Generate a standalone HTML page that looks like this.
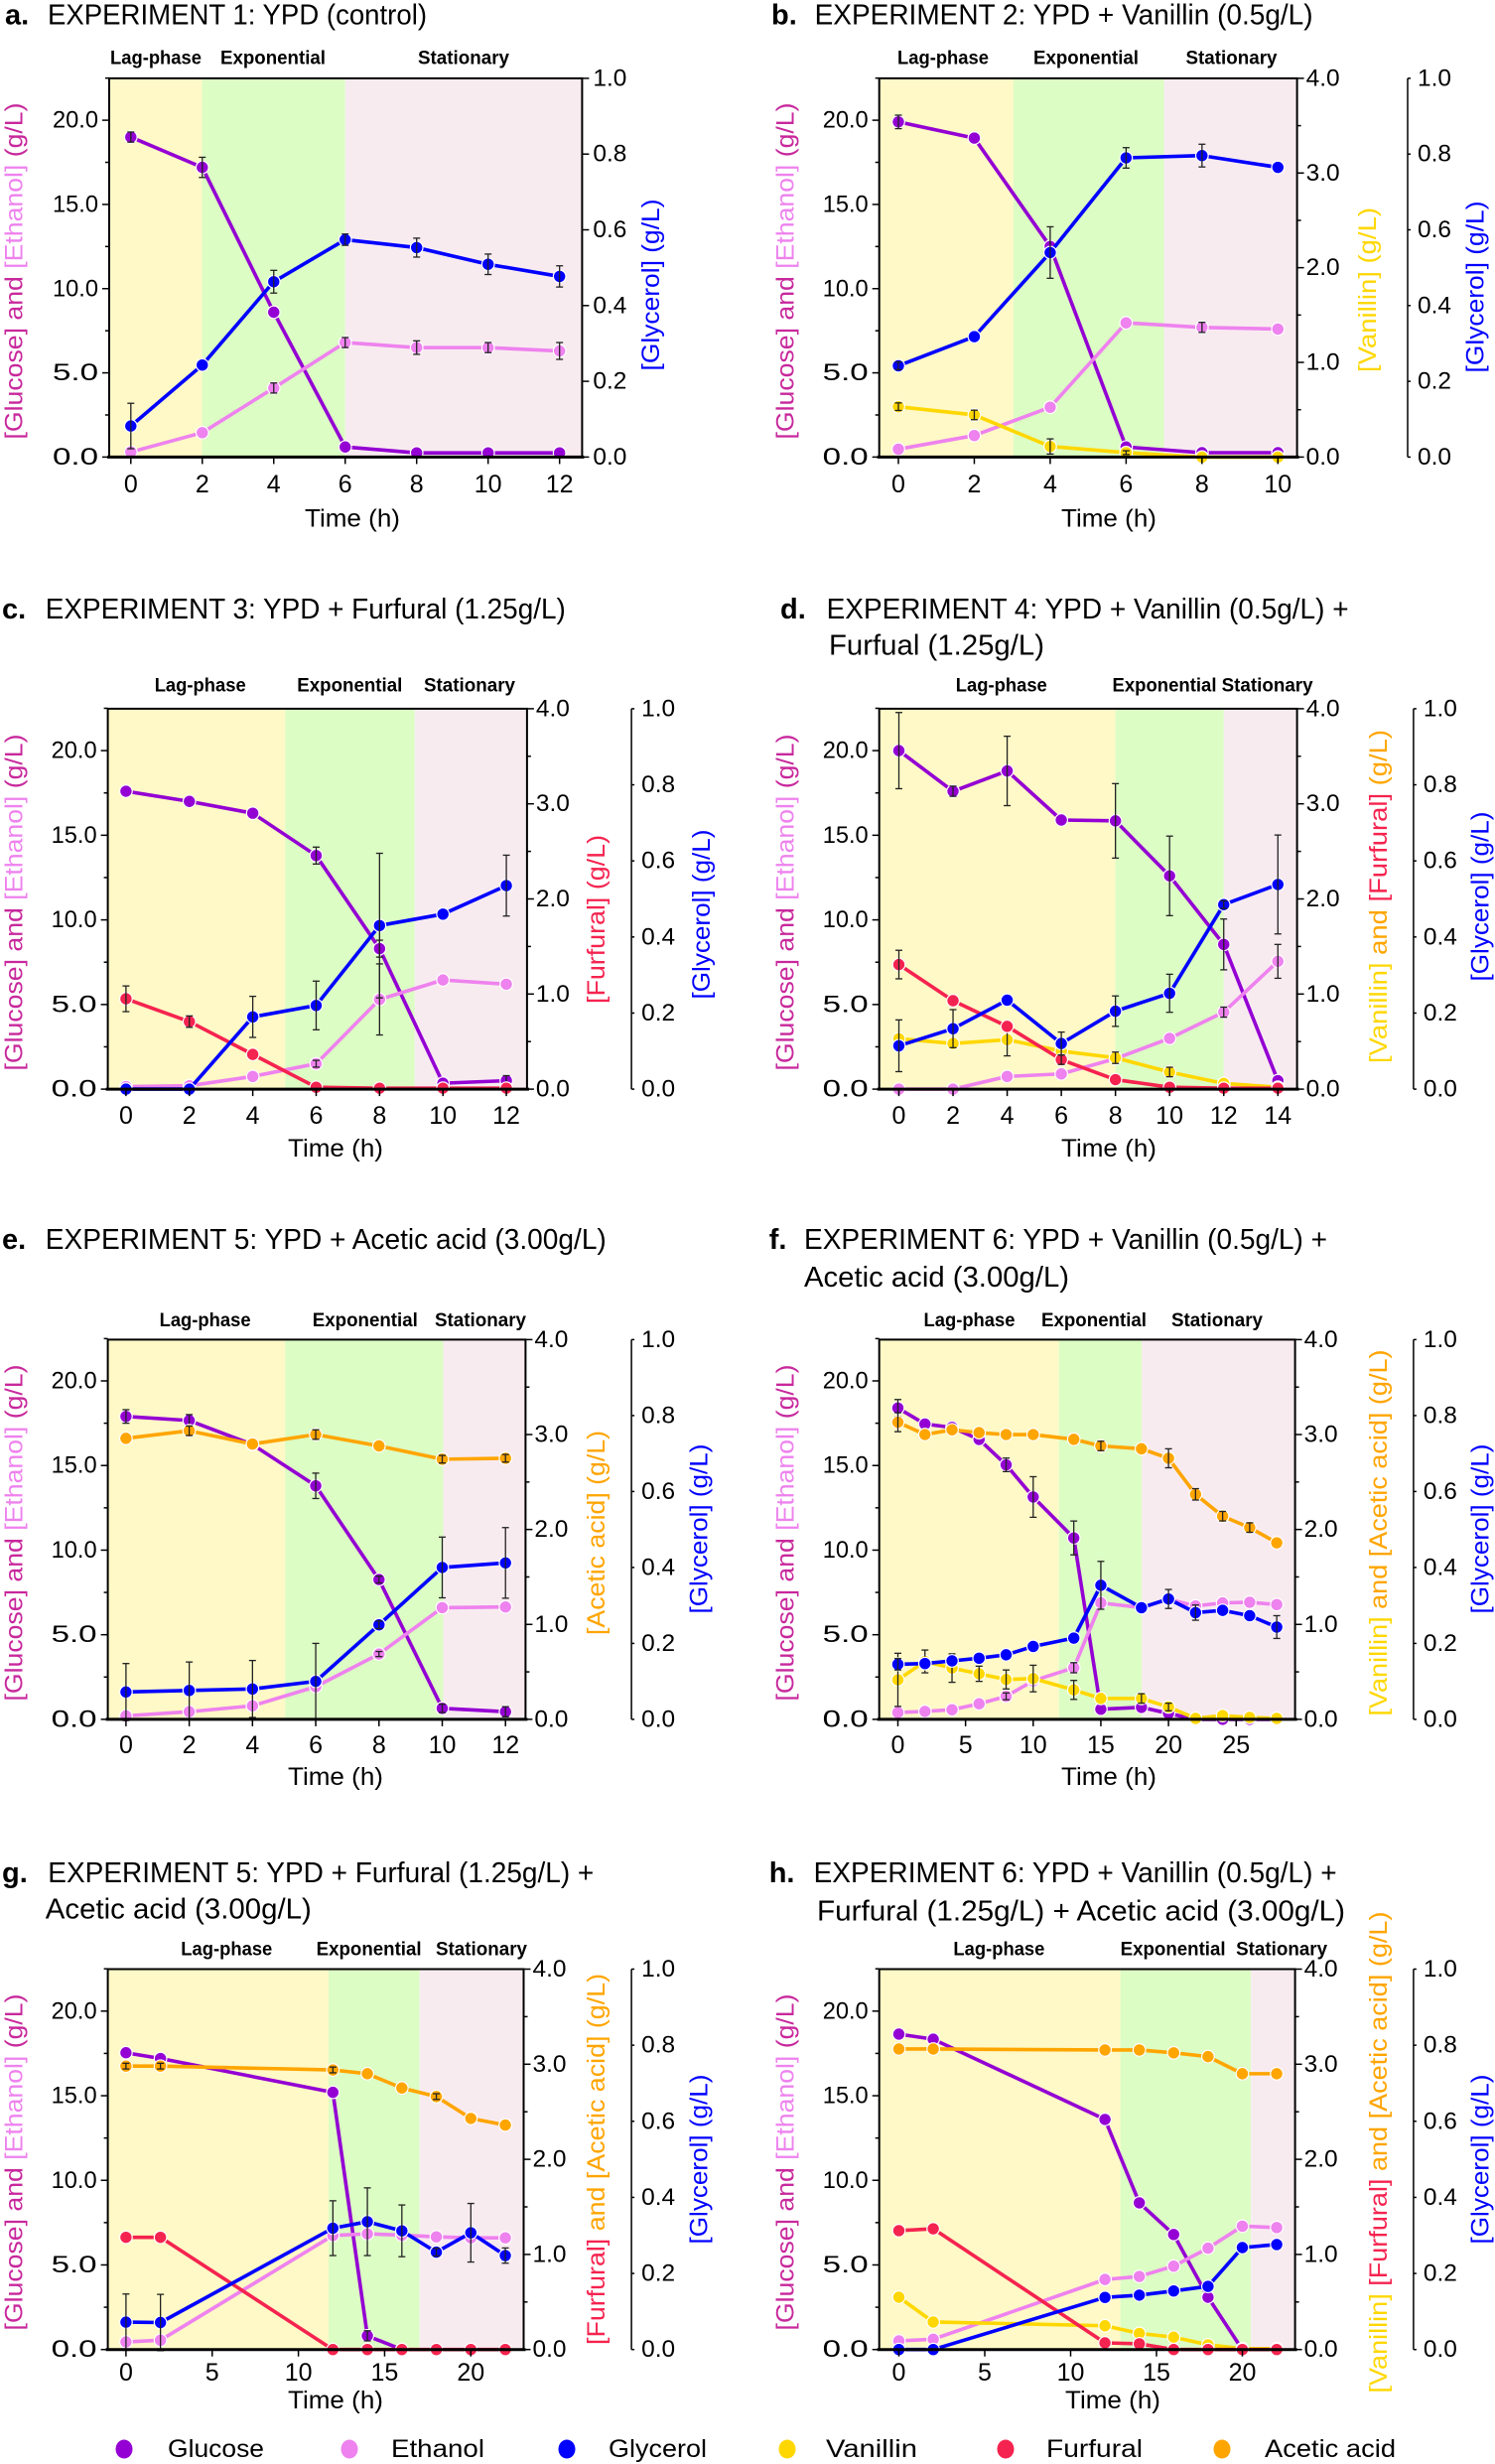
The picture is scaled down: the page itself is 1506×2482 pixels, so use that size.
<!DOCTYPE html>
<html><head><meta charset="utf-8">
<style>
html,body{margin:0;padding:0;background:#fff;}
svg{display:block;font-family:"Liberation Sans",sans-serif;}
</style></head>
<body>
<svg id="s" xmlns="http://www.w3.org/2000/svg" width="1506" height="2482" viewBox="0 0 1506 2482"></svg>
<script>
const NS='http://www.w3.org/2000/svg';
const S=document.getElementById('s');
function el(tag,a,txt,par){const e=document.createElementNS(NS,tag);for(const k in a)e.setAttribute(k,a[k]);if(txt!==undefined&&txt!==null)e.textContent=txt;(par||S).appendChild(e);return e;}
const C={glu:'#9400D3',eth:'#EE82EE',gly:'#0000FF',van:'#FFD700',fur:'#F5234F',ace:'#FFA500'};
const LC={glu:'#C8289C',eth:'#EE82EE',gly:'#0000FF',van:'#FFD700',fur:'#F5234F',ace:'#FFA500',k:'#000'};
function T(x,y,s,o){o=o||{};const a={x:x,y:y,'font-size':o.fs||24,fill:o.fill||'#000','dominant-baseline':'central'};
 if(o.anchor)a['text-anchor']=o.anchor; if(o.len){a.textLength=o.len;a.lengthAdjust='spacingAndGlyphs';} if(o.fw)a['font-weight']=o.fw;
 return el('text',a,s);}
function VT(x,y,parts,len,fs){const t=el('text',{transform:`translate(${x},${y}) rotate(-90)`,'text-anchor':'middle','dominant-baseline':'central','font-size':fs||25,textLength:len,lengthAdjust:'spacingAndGlyphs'});
 parts.forEach(p=>el('tspan',{fill:LC[p[1]]},p[0],t));}

function panel(P){
 const {L,R,T:Tp,B,x0,xs,y20}=P;
 const px=t=>x0+t*xs, ly=v=>B-v*(B-y20)/20, ry=v=>B-v*(B-Tp)/4, gy=v=>B-v*(B-Tp);
 // shades
 const s1=px(P.sh[0]),s2=px(P.sh[1]);
 el('rect',{x:L,y:Tp,width:s1-L,height:B-Tp,fill:'#FEF9C6'});
 el('rect',{x:s1,y:Tp,width:s2-s1,height:B-Tp,fill:'#DCFDC4'});
 el('rect',{x:s2,y:Tp,width:R-s2,height:B-Tp,fill:'#F8EBF0'});
 // series
 const yf={L:ly,R:ry,G:gy};
 P.series.forEach(sr=>{
  const [key,ax,ts,vs,errs]=sr; const f=yf[ax];
  const pts=ts.map((t,i)=>[px(t),f(vs[i])]);
  el('polyline',{points:pts.map(p=>p.join(',')).join(' '),fill:'none',stroke:C[key],'stroke-width':3.6,'stroke-linejoin':'round'});
  pts.forEach((p,i)=>{el('circle',{cx:p[0],cy:p[1],r:6.3,fill:C[key],stroke:'#fff','stroke-width':1.2});});
  if(errs){errs.forEach(e=>{const i=e[0],d=e[1];const x=pts[i][0];const y1=f(vs[i]-d),y2=f(vs[i]+d);
   el('line',{x1:x,y1:y1,x2:x,y2:y2,stroke:'#222','stroke-width':1.3});
   el('line',{x1:x-3.5,y1:y1,x2:x+3.5,y2:y1,stroke:'#222','stroke-width':1.3});
   el('line',{x1:x-3.5,y1:y2,x2:x+3.5,y2:y2,stroke:'#222','stroke-width':1.3});});}
 });
 // frame
 el('rect',{x:L,y:Tp,width:R-L,height:B-Tp,fill:'none',stroke:'#000','stroke-width':2});
 el('line',{x1:L-2,y1:B,x2:R+2,y2:B,stroke:'#000','stroke-width':3});
 // left ticks
 for(let v=0;v<=22.5;v+=2.5){const y=ly(v);const maj=(v%5===0);el('line',{x1:L-(maj?7:4),y1:y,x2:L,y2:y,stroke:'#000','stroke-width':1.5});
  if(maj)T(L-11,y,v.toFixed(1),{anchor:'end',fs:24,len:46});}
 // x ticks
 P.xt.forEach(t=>{const x=px(t);el('line',{x1:x,y1:B,x2:x,y2:B+7,stroke:'#000','stroke-width':1.5});T(x,P.xty,String(t),{anchor:'middle',fs:25});});
 T(P.timeX,P.timeY,'Time (h)',{anchor:'middle',fs:25,len:96});
 // right axis
 if(P.r4){for(let v=0;v<=4;v+=0.5){const y=ry(v);const maj=(v%1===0);el('line',{x1:R,y1:y,x2:R+(maj?7:4),y2:y,stroke:'#000','stroke-width':1.5});
   if(maj)T(R+9,y,v.toFixed(1),{fs:24,len:34});}
  const G=P.G; el('line',{x1:G,y1:Tp,x2:G,y2:B,stroke:'#000','stroke-width':1.5});
  for(let v=0;v<=1.0001;v+=0.2){const y=gy(v);el('line',{x1:G,y1:y,x2:G+3,y2:y,stroke:'#000','stroke-width':1.5});T(G+10,y,v.toFixed(1),{fs:24,len:34});}
 } else {
  for(let v=0;v<=1.0001;v+=0.2){const y=gy(v);el('line',{x1:R,y1:y,x2:R+7,y2:y,stroke:'#000','stroke-width':1.5});T(R+11,y,v.toFixed(1),{fs:24,len:34});}
 }
 // phase labels
 P.ph.forEach(p=>T(p[0],P.phy,p[1],{anchor:'middle',fs:19,fw:'bold',len:p[2]}));
}
</script>
<script>
// legends / titles / labels as literal text
function titles(){
 const B={fs:29,fw:'bold'};
 T(5,15.6,'a.',B); T(48,15.6,'EXPERIMENT 1: YPD (control)',{fs:29,len:382});
 T(777,15.6,'b.',B); T(820.6,15.6,'EXPERIMENT 2: YPD + Vanillin (0.5g/L)',{fs:29,len:502});
 T(2,614,'c.',B); T(45.8,614,'EXPERIMENT 3: YPD + Furfural (1.25g/L)',{fs:29,len:524});
 T(786,614,'d.',B); T(832.6,614,'EXPERIMENT 4: YPD + Vanillin (0.5g/L) +',{fs:29,len:526}); T(835,650.6,'Furfual (1.25g/L)',{fs:29,len:217});
 T(2,1249,'e.',B); T(45.8,1249,'EXPERIMENT 5: YPD + Acetic acid (3.00g/L)',{fs:29,len:565});
 T(774.7,1249,'f.',B); T(810,1249,'EXPERIMENT 6: YPD + Vanillin (0.5g/L) +',{fs:29,len:527}); T(810,1287,'Acetic acid (3.00g/L)',{fs:29,len:267});
 T(2,1887,'g.',B); T(48.3,1887,'EXPERIMENT 5: YPD + Furfural (1.25g/L) +',{fs:29,len:550}); T(45.8,1923.6,'Acetic acid (3.00g/L)',{fs:29,len:268});
 T(774.7,1887,'h.',B); T(819.6,1887,'EXPERIMENT 6: YPD + Vanillin (0.5g/L) +',{fs:29,len:527}); T(823,1925.4,'Furfural (1.25g/L) + Acetic acid (3.00g/L)',{fs:29,len:532});
 // left y labels
 const lp=[['[Glucose] and ','glu'],['[Ethanol]','eth'],[' (g/L)','glu']];
 VT(14.5,273,lp,339); VT(791.6,273,lp,339);
 VT(14.5,909,lp,339); VT(791.6,909,lp,339);
 VT(14.5,1544,lp,339); VT(791.6,1544,lp,339);
 VT(14.5,2178,lp,339); VT(791.6,2178,lp,339);
 // right labels
 const gl=[['[Glycerol] (g/L)','gly']];
 VT(656,287,gl,173);
 VT(1378,292,[['[Vanillin] (g/L)','van']],166); VT(1486.6,289,gl,173);
 VT(601,926,[['[Furfural] (g/L)','fur']],170); VT(707,921,gl,171);
 VT(1389,903,[['[Vanillin]','van'],[' and ','ace'],['[Furfural]','fur'],[' (g/L)','ace']],336); VT(1491.4,903,gl,171);
 VT(601,1544,[['[Acetic acid] (g/L)','ace']],206); VT(704.6,1540,gl,171);
 VT(1389,1544,[['[Vanillin]','van'],[' and ','ace'],['[Acetic acid] (g/L)','ace']],369); VT(1491.4,1540,gl,171);
 VT(601,2175,[['[Furfural]','fur'],[' and ','ace'],['[Acetic acid] (g/L)','ace']],374); VT(704.6,2175,gl,171);
 VT(1389,2168,[['[Vanillin]','van'],[' ','ace'],['[Furfural]','fur'],[' and ','ace'],['[Acetic acid] (g/L)','ace']],485); VT(1491.4,2175,gl,171);
 // legend
 const lg=[[125,169,'Glucose','glu',97],[352,394,'Ethanol','eth',94],[571,613,'Glycerol','gly',99],[793,832,'Vanillin','van',92],[1013,1054,'Furfural','fur',97],[1231,1274,'Acetic acid','ace',132]];
 lg.forEach(l=>{el('ellipse',{cx:l[0],cy:2467,rx:8.5,ry:9.5,fill:C[l[3]]});T(l[1],2467,l[2],{fs:25,len:l[4]});});
}
</script>
<script>
const top1={T:78.9,B:460.4,y20:121.1,phy:58.8,xty:488,timeY:522.7};
const top2={T:713.9,B:1097.1,y20:756.1,phy:691,xty:1124,timeY:1157};
const top3={T:1349.4,B:1731.9,y20:1391,phy:1330.4,xty:1758,timeY:1790};
const top4={T:1983.5,B:2366.7,y20:2025.8,phy:1964,xty:2390,timeY:2418};
const t7=[0,2,4,6,8,10,12];
panel(Object.assign({},top1,{L:110,R:586.4,x0:131.8,xs:35.99,sh:[2,6],xt:t7,timeX:355,r4:false,
 ph:[[157,'Lag-phase',92],[275,'Exponential',106],[467,'Stationary',92]],
 series:[['glu','L',t7,[19.0,17.2,8.6,0.6,0.25,0.25,0.25],[[0,0.3],[1,0.6]]],
  ['eth','L',t7,[0.3,1.45,4.1,6.8,6.5,6.5,6.3],[[2,0.3],[3,0.3],[4,0.4],[5,0.3],[6,0.5]]],
  ['gly','G',t7,[0.082,0.243,0.463,0.574,0.553,0.509,0.477],[[0,0.06],[2,0.03],[3,0.015],[4,0.025],[5,0.027],[6,0.028]]]]}));
const t6=[0,2,4,6,8,10];
panel(Object.assign({},top1,{L:885.7,R:1306.6,G:1418,x0:905,xs:38.23,sh:[3.03,7.0],xt:t6,timeX:1117,r4:true,
 ph:[[950,'Lag-phase',92],[1094,'Exponential',106],[1240.5,'Stationary',92]],
 series:[['glu','L',t6,[19.9,18.94,12.5,0.6,0.26,0.26],[[0,0.4]]],
  ['eth','L',t6,[0.47,1.28,2.96,7.97,7.7,7.6],[[4,0.3]]],
  ['van','R',t6,[0.532,0.445,0.112,0.047,0,0],[[0,0.04],[1,0.05],[2,0.08],[3,0.02]]],
  ['gly','G',t6,[0.241,0.318,0.54,0.79,0.796,0.765],[[0,0.01],[2,0.068],[3,0.027],[4,0.03]]]]}));
panel(Object.assign({},top2,{L:108.6,R:530.9,G:636.1,x0:126.9,xs:31.93,sh:[5.02,9.11],xt:t7,timeX:338,r4:true,
 ph:[[201.7,'Lag-phase',92],[352.3,'Exponential',106],[473,'Stationary',92]],
 series:[['glu','L',t7,[17.6,17.0,16.3,13.8,8.3,0.35,0.5],[[3,0.5],[4,0.5],[6,0.3]]],
  ['eth','L',t7,[0.15,0.2,0.75,1.5,5.3,6.45,6.2],[[3,0.2],[4,2.1]]],
  ['fur','R',t7,[0.95,0.71,0.365,0.02,0.01,0.01,0.01],[[0,0.135],[1,0.06]]],
  ['gly','G',t7,[0,0,0.19,0.22,0.43,0.46,0.535],[[2,0.054],[3,0.064],[4,0.19],[6,0.08]]]]}));
const t8=[0,2,4,6,8,10,12,14];
panel(Object.assign({},top2,{L:885.7,R:1306.6,G:1423.9,x0:905.5,xs:27.27,sh:[8,12],xt:t8,timeX:1117,r4:true,
 ph:[[1008.8,'Lag-phase',92],[1173,'Exponential',105],[1276.6,'Stationary',92]],
 series:[['glu','L',t8,[20.0,17.6,18.8,15.9,15.85,12.6,8.55,0.5],[[0,2.25],[1,0.3],[2,2.05],[4,2.2],[5,2.35],[6,1.5]]],
  ['eth','L',t8,[0,0,0.75,0.9,1.8,3.0,4.55,7.55],[[6,0.3],[7,1.0]]],
  ['van','R',t8,[0.53,0.48,0.52,0.40,0.33,0.18,0.06,0.02],[[2,0.17],[4,0.06],[5,0.05]]],
  ['fur','R',t8,[1.31,0.93,0.66,0.31,0.10,0.02,0.01,0.01],[[0,0.15],[3,0.05]]],
  ['gly','G',t8,[0.114,0.159,0.234,0.12,0.205,0.252,0.485,0.538],[[0,0.068],[1,0.05],[3,0.03],[4,0.04],[5,0.05],[6,0.01],[7,0.13]]]]}));
panel(Object.assign({},top3,{L:108.6,R:529.4,G:636.1,x0:126.9,xs:31.86,sh:[5.03,10.03],xt:t7,timeX:338,r4:true,
 ph:[[206.6,'Lag-phase',92],[367.8,'Exponential',106],[484,'Stationary',92]],
 series:[['glu','L',t7,[17.9,17.66,16.24,13.8,8.26,0.65,0.45],[[0,0.4],[1,0.35],[3,0.75],[4,0.2],[5,0.25],[6,0.3]]],
  ['eth','L',t7,[0.2,0.45,0.8,1.93,3.86,6.6,6.64],[[4,0.15]]],
  ['ace','R',t7,[2.96,3.04,2.90,3.0,2.88,2.74,2.75],[[1,0.05],[3,0.05],[5,0.04],[6,0.04]]],
  ['gly','G',t7,[0.072,0.076,0.08,0.10,0.249,0.40,0.412],[[0,0.075],[1,0.075],[2,0.075],[3,0.1],[4,0.01],[5,0.08],[6,0.093]]]]}));
const tf=[0,2,4,6,8,10,13,15,18,20,22,24,26,28];
panel(Object.assign({},top3,{L:885.7,R:1304.6,G:1423.9,x0:904.5,xs:13.63,sh:[11.9,18.02],xt:[0,5,10,15,20,25],timeX:1117,r4:true,
 ph:[[976.5,'Lag-phase',92],[1102,'Exponential',106],[1226,'Stationary',92]],
 series:[['glu','L',tf,[18.4,17.45,17.25,16.54,15.04,13.14,10.72,0.6,0.71,0.35,0,0,0,0],[[0,0.5],[4,0.4],[5,1.2],[6,1.0]]],
  ['eth','L',tf,[0.4,0.47,0.57,0.92,1.36,2.28,3.05,6.88,6.6,7.1,6.7,6.88,6.92,6.78],[[4,0.2],[6,0.3]]],
  ['ace','R',tf,[3.13,3.0,3.05,3.02,3.0,3.0,2.95,2.88,2.85,2.75,2.37,2.14,2.02,1.86],[[0,0.1],[7,0.05],[9,0.1],[10,0.06],[11,0.05],[12,0.05]]],
  ['van','R',tf,[0.416,0.61,0.54,0.48,0.42,0.43,0.31,0.22,0.22,0.13,0.01,0.04,0.02,0.01],[[0,0.28],[1,0.12],[2,0.15],[3,0.08],[4,0.1],[5,0.14],[6,0.1],[8,0.05],[9,0.04]]],
  ['gly','G',tf,[0.145,0.147,0.154,0.161,0.17,0.192,0.214,0.353,0.294,0.317,0.281,0.287,0.273,0.243],[[0,0.015],[7,0.063],[9,0.025],[10,0.02],[13,0.03]]]]}));
const tg=[0,2,12,14,16,18,20,22];
panel(Object.assign({},top4,{L:108.6,R:527.5,G:636.1,x0:126.9,xs:17.37,sh:[11.75,17.03],xt:[0,5,10,15,20],timeX:338,r4:true,
 ph:[[228.3,'Lag-phase',92],[371.6,'Exponential',106],[485,'Stationary',92]],
 series:[['glu','L',[0,2,12,14,16],[17.54,17.2,15.2,0.81,0],[[3,0.3]]],
  ['eth','L',tg,[0.45,0.55,6.74,6.84,6.76,6.66,6.6,6.6],null],
  ['ace','R',tg,[2.98,2.98,2.94,2.90,2.75,2.66,2.43,2.36],[[0,0.03],[1,0.03],[2,0.03],[5,0.03]]],
  ['fur','R',tg,[1.18,1.18,0,0,0,0,0,0],null],
  ['gly','G',tg,[0.072,0.071,0.319,0.336,0.312,0.256,0.307,0.247],[[0,0.074],[1,0.074],[2,0.072],[3,0.089],[4,0.068],[5,0.01],[6,0.077],[7,0.02]]]]}));
panel(Object.assign({},top4,{L:885.7,R:1304.6,G:1423.9,x0:905.5,xs:17.3,sh:[12.9,20.5],xt:[0,5,10,15,20],timeX:1121,r4:true,
 ph:[[1006.4,'Lag-phase',92],[1181.6,'Exponential',106],[1291.1,'Stationary',92]],
 series:[['glu','L',[0,2,12,14,16,18,20],[18.64,18.34,13.6,8.67,6.8,3.09,0],null],
  ['eth','L',tg,[0.51,0.61,4.14,4.32,4.93,5.99,7.29,7.21],null],
  ['ace','R',tg,[3.16,3.16,3.15,3.15,3.12,3.08,2.90,2.90],null],
  ['van','R',tg,[0.55,0.29,0.25,0.17,0.13,0.05,0.01,0.01],null],
  ['fur','R',tg,[1.25,1.27,0.07,0.06,0,0,0,0],null],
  ['gly','G',tg,[0,0,0.137,0.143,0.154,0.166,0.268,0.276],null]]}));
titles();
</script>
</body></html>
